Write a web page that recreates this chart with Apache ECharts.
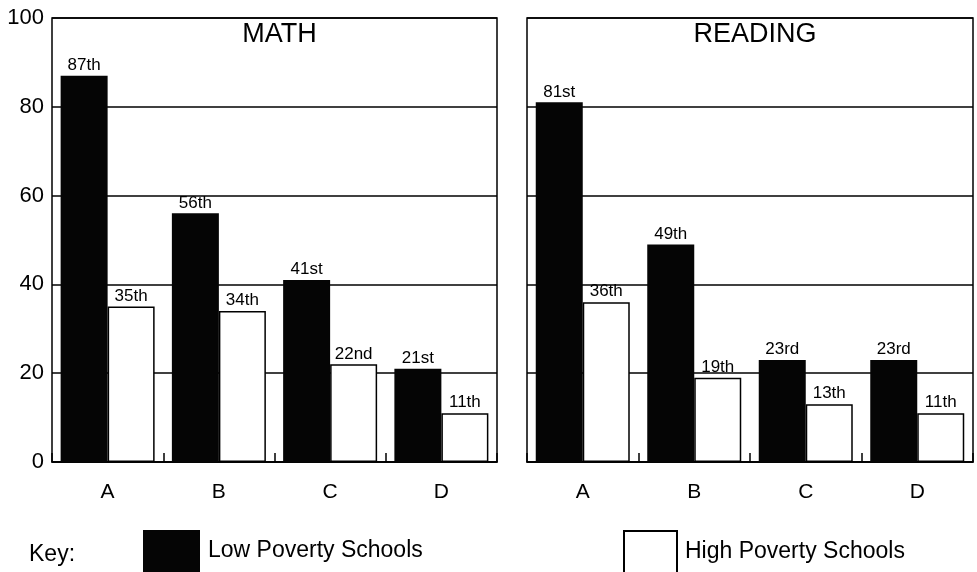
<!DOCTYPE html>
<html>
<head>
<meta charset="utf-8">
<script src="https://cdn.jsdelivr.net/npm/echarts@6/dist/echarts.min.js"></script>
<style>
  html, body { margin: 0; padding: 0; background: #fff; }
  #chart { width: 977px; height: 572px; }
</style>
</head>
<body>
<div id="chart"></div>
<script>
// Percentile ranks by school group
const categories = ['A', 'B', 'C', 'D'];
const mathLow = [87, 56, 41, 21];
const mathHigh = [35, 34, 22, 11];
const readingLow = [81, 49, 23, 23];
const readingHigh = [36, 19, 13, 11];
const yTicks = [0, 20, 40, 60, 80, 100];
const panelTitles = ['MATH', 'READING'];
const seriesNames = ['Low Poverty Schools', 'High Poverty Schools'];

const FONT = '"Liberation Sans", Arial, Helvetica, sans-serif';

function ordinal(n) {
  const m100 = n % 100, m10 = n % 10;
  if (m100 >= 11 && m100 <= 13) return n + 'th';
  if (m10 === 1) return n + 'st';
  if (m10 === 2) return n + 'nd';
  if (m10 === 3) return n + 'rd';
  return n + 'th';
}

const grids = [
  { left: 52, top: 18, width: 445, height: 444 },
  { left: 527, top: 18, width: 446, height: 444 }
];

const barLabel = {
  show: true,
  position: 'top',
  distance: 2,
  fontFamily: FONT,
  fontSize: 17,
  color: '#000',
  formatter: p => ordinal(p.value)
};

const lowStyle = { color: '#050505' };
const highStyle = { color: '#fff', borderColor: '#000', borderWidth: 1.5 };

function barSeries(name, data, idx, style) {
  return {
    name: name,
    type: 'bar',
    xAxisIndex: idx,
    yAxisIndex: idx,
    data: data,
    barWidth: 47,
    barGap: '0%',
    itemStyle: style,
    label: barLabel,
    z: 3
  };
}

const legendText = { fontFamily: FONT, fontSize: 23, color: '#000', padding: [12, 0, 0, 3] };

const option = {
  animation: false,
  backgroundColor: '#fff',
  title: panelTitles.map((t, i) => ({
    text: t,
    left: grids[i].left + grids[i].width / 2,
    top: 16,
    textAlign: 'center',
    textStyle: { fontFamily: FONT, fontSize: 27, fontWeight: 'normal', color: '#000' }
  })),
  grid: grids.map(g => Object.assign({
    show: true,
    borderColor: '#000',
    borderWidth: 1.5,
    backgroundColor: 'transparent'
  }, g)),
  xAxis: grids.map((g, i) => ({
    type: 'category',
    gridIndex: i,
    data: categories,
    axisLine: { show: true, lineStyle: { color: '#000', width: 1.5 } },
    axisTick: { show: true, inside: true, length: 9, lineStyle: { color: '#000', width: 1.5 } },
    axisLabel: { fontFamily: FONT, fontSize: 21, color: '#000', margin: 20 }
  })),
  yAxis: grids.map((g, i) => ({
    type: 'value',
    gridIndex: i,
    min: yTicks[0],
    max: yTicks[yTicks.length - 1],
    interval: 20,
    axisLine: { show: false },
    axisTick: { show: false },
    splitLine: { show: true, lineStyle: { color: '#000', width: 1.5 } },
    axisLabel: {
      show: i === 0,
      fontFamily: FONT,
      fontSize: 22,
      color: '#000',
      margin: 8
    }
  })),
  legend: [
    {
      data: [seriesNames[0]],
      left: 143,
      top: 530,
      itemWidth: 57,
      itemHeight: 42,
      icon: 'rect',
      textStyle: legendText,
      padding: 0,
      selectedMode: false
    },
    {
      data: [seriesNames[1]],
      left: 623,
      top: 530,
      itemWidth: 53,
      itemHeight: 42,
      icon: 'rect',
      textStyle: legendText,
      padding: 0,
      selectedMode: false
    }
  ],
  graphic: [
    {
      type: 'text',
      left: 29,
      top: 543,
      style: { text: 'Key:', fontFamily: FONT, fontSize: 23, fill: '#000' }
    }
  ],
  series: [
    barSeries(seriesNames[0], mathLow, 0, lowStyle),
    barSeries(seriesNames[1], mathHigh, 0, highStyle),
    barSeries(seriesNames[0], readingLow, 1, lowStyle),
    barSeries(seriesNames[1], readingHigh, 1, highStyle)
  ]
};

echarts.init(document.getElementById('chart')).setOption(option);
</script>
</body>
</html>
